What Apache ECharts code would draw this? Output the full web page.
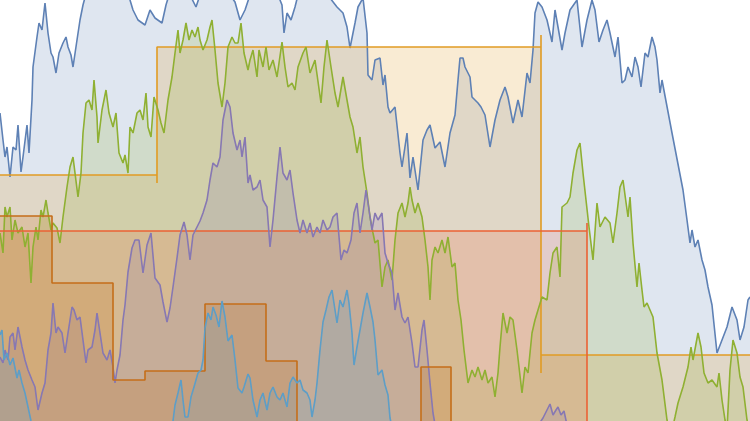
<!DOCTYPE html>
<html>
<head>
<meta charset="utf-8">
<script src="https://cdn.jsdelivr.net/npm/echarts@6/dist/echarts.min.js"></script>
<style>
html,body{margin:0;padding:0;background:#fff;}
#chart{width:750px;height:421px;}
</style>
</head>
<body>
<div id="chart"></div>
<script>
// Random-walk series: [time, value]
var walkBlue = [[0,308],[3,281],[5,264],[7,274],[10,244],[13,274],[16,271],[18,296],[21,249],[23,264],[27,296],[29,268],[32,321],[33,354],[37,384],[39,398],[42,391],[45,418],[48,388],[51,368],[53,364],[56,348],[59,368],[63,378],[66,384],[68,374],[71,366],[73,354],[77,381],[80,401],[83,416],[87,431],[95,451],[105,446],[115,456],[125,436],[130,421],[133,411],[138,401],[145,396],[150,411],[155,403],[162,398],[166,416],[172,436],[182,441],[190,426],[196,414],[200,426],[210,446],[220,441],[230,426],[235,419],[240,401],[245,411],[250,426],[258,446],[268,441],[276,431],[282,416],[284,388],[287,408],[291,401],[295,414],[298,426],[305,441],[315,436],[325,431],[330,423],[337,414],[343,408],[347,394],[350,373],[352,374],[355,398],[358,414],[363,423],[365,421],[367,388],[368,346],[372,341],[375,361],[380,363],[383,336],[385,346],[388,314],[390,308],[395,314],[400,268],[402,254],[407,288],[410,243],[413,264],[418,231],[423,281],[427,291],[430,296],[435,273],[440,279],[445,254],[450,288],[455,306],[458,341],[460,363],[463,363],[465,354],[470,344],[472,324],[478,318],[481,314],[485,306],[490,274],[495,301],[500,321],[505,334],[508,324],[513,298],[518,321],[522,304],[527,348],[530,338],[533,371],[535,408],[538,419],[542,414],[547,401],[552,379],[555,411],[558,394],[562,371],[565,388],[570,411],[577,421],[582,374],[587,401],[592,421],[595,411],[599,379],[603,391],[607,401],[610,388],[615,364],[618,384],[622,338],[625,341],[628,354],[632,344],[635,364],[638,354],[641,334],[645,368],[648,364],[652,384],[655,374],[657,361],[660,328],[662,341],[672,288],[683,231],[687,201],[690,178],[692,191],[695,174],[698,181],[702,161],[705,151],[708,134],[712,116],[717,68],[722,81],[727,94],[732,114],[737,101],[740,81],[744,94],[748,121],[750,124]];

var walkGreen = [[0,188],[3,168],[5,214],[7,204],[10,214],[12,181],[15,201],[18,188],[22,194],[25,174],[28,188],[31,138],[33,174],[36,194],[38,181],[41,211],[43,204],[46,221],[48,208],[51,191],[53,198],[57,193],[60,178],[63,204],[67,234],[70,254],[73,264],[75,248],[78,224],[81,248],[83,288],[86,318],[89,321],[92,311],[94,341],[97,304],[98,278],[102,311],[106,331],[109,308],[113,294],[116,308],[119,268],[123,258],[125,266],[128,248],[130,294],[133,288],[137,308],[140,311],[143,301],[146,328],[148,294],[151,284],[154,324],[158,311],[161,298],[164,288],[168,321],[172,344],[175,368],[178,391],[180,368],[183,381],[186,398],[189,381],[192,391],[195,384],[198,394],[200,381],[203,371],[207,381],[210,394],[212,401],[215,371],[218,338],[222,314],[225,338],[228,374],[232,384],[235,378],[238,378],[241,398],[244,368],[248,351],[250,361],[253,371],[257,344],[259,371],[263,354],[266,374],[269,351],[273,361],[277,344],[282,379],[285,354],[288,334],[292,338],[295,331],[298,354],[303,368],[306,374],[310,348],[315,361],[321,318],[324,354],[327,381],[331,354],[335,328],[338,314],[343,344],[347,321],[350,304],[353,294],[357,268],[360,284],[363,254],[367,228],[370,204],[373,188],[375,178],[378,181],[382,134],[385,154],[388,161],[392,141],[395,181],[398,208],[402,218],[405,204],[408,218],[410,234],[412,221],[415,208],[418,218],[422,204],[425,181],[428,154],[430,121],[432,161],[435,174],[438,168],[442,181],[445,168],[448,184],[452,154],[455,158],[458,121],[461,101],[464,71],[468,38],[472,51],[475,44],[478,54],[482,41],[485,51],[488,38],[492,44],[495,24],[498,48],[500,74],[503,108],[507,88],[510,104],[513,101],[517,71],[522,28],[525,54],[528,48],[532,88],[535,101],[538,111],[542,124],[547,121],[550,148],[553,168],[557,174],[560,144],[562,214],[567,218],[570,224],[573,248],[577,271],[580,278],[583,248],[586,221],[589,194],[593,161],[597,218],[600,194],[605,204],[610,198],[613,178],[617,208],[620,234],[623,241],[625,226],[628,204],[630,224],[633,178],[637,134],[639,158],[642,131],[644,114],[647,118],[650,111],[653,104],[657,68],[662,41],[667,1],[671,-14],[675,4],[678,18],[683,34],[688,54],[691,74],[693,61],[698,88],[701,74],[704,48],[708,38],[712,41],[717,34],[719,48],[722,21],[725,1],[727,-9],[730,51],[733,81],[737,68],[740,44],[743,34],[747,1],[750,-9]];

var walkPurple = [[0,64],[3,58],[5,71],[8,61],[10,84],[13,88],[15,71],[18,94],[22,74],[25,61],[28,51],[32,41],[35,34],[38,11],[42,28],[45,38],[48,71],[51,88],[53,118],[56,88],[58,94],[62,88],[65,68],[68,88],[72,114],[74,111],[77,101],[80,104],[83,81],[86,58],[88,71],[92,74],[95,91],[97,108],[100,88],[103,68],[107,61],[110,71],[113,54],[115,38],[117,51],[120,66],[123,101],[125,116],[128,149],[132,173],[135,181],[139,181],[143,148],[147,176],[151,188],[155,143],[160,136],[163,119],[167,99],[170,113],[173,134],[177,163],[180,186],[184,199],[187,186],[190,161],[193,186],[197,194],[200,200],[203,208],[207,221],[210,241],[213,258],[217,254],[220,264],[223,301],[227,321],[230,314],[233,288],[237,271],[240,281],[242,264],[245,284],[248,238],[250,246],[253,231],[257,234],[260,241],[263,221],[267,214],[270,174],[273,201],[277,244],[280,274],[283,248],[287,241],[290,251],[293,228],[297,201],[300,188],[303,201],[307,188],[310,198],[313,184],[317,194],[320,188],[323,201],[327,191],[330,194],[333,204],[337,208],[341,161],[344,171],[347,168],[351,181],[354,208],[357,218],[360,188],[363,208],[366,231],[368,218],[372,191],[375,208],[378,201],[382,208],[385,168],[388,158],[392,148],[395,111],[398,128],[402,104],[405,98],[408,104],[412,78],[415,54],[418,54],[422,91],[424,101],[427,71],[430,38],[433,8],[436,-9],[450,-39],[480,-49],[510,-29],[535,-9],[543,3],[547,11],[550,17],[553,6],[556,11],[558,14],[561,6],[564,10],[567,-4],[580,-29],[620,-49],[680,-59],[750,-69]];

var walkLightBlue = [[0,86],[2,91],[4,61],[7,68],[10,56],[13,63],[17,43],[19,51],[22,38],[25,28],[28,14],[31,0],[36,-19],[60,-49],[100,-69],[140,-49],[165,-19],[173,0],[175,16],[178,28],[181,41],[183,21],[185,4],[188,4],[191,24],[194,34],[198,48],[201,51],[203,61],[205,93],[208,108],[211,101],[213,114],[216,106],[219,94],[222,120],[225,104],[228,80],[232,86],[235,61],[238,33],[242,28],[244,34],[248,47],[250,43],[253,21],[257,4],[260,21],[263,28],[267,11],[270,28],[273,34],[277,24],[280,21],[283,28],[287,14],[290,38],[293,44],[297,38],[300,41],[303,31],[307,28],[310,21],[312,4],[315,21],[317,38],[320,71],[323,99],[326,111],[329,124],[332,131],[335,111],[337,98],[340,121],[343,114],[347,131],[349,118],[352,88],[354,56],[357,74],[360,91],[363,108],[367,128],[370,114],[373,99],[375,81],[378,46],[382,51],[385,36],[388,26],[390,3],[395,-19],[430,-49],[500,-59],[600,-49],[750,-59]];

// Step series: [jump time, new level] (level held until next jump)
var stepOrange = [[0,246],[157,238],[157,374],[541,386],[541,48],[541,66],[750,66]];
var stepRed = [[0,190],[587,198],[587,-40],[750,-40]];
var stepBrown = [[0,205],[52,138],[113,41],[145,50],[205,117],[266,60],[297,-30],[421,54],[451,-30],[750,-30]];

var colors = {
  blue: '#5E81B5', orange: '#E19C24', green: '#8FB032', red: '#EB6235',
  purple: '#8778B3', brown: '#C56E1A', lightBlue: '#5D9EC7'
};

var layers = [
  {data: walkBlue, color: colors.blue, step: false},
  {data: stepOrange, color: colors.orange, step: 'end'},
  {data: walkGreen, color: colors.green, step: false},
  {data: stepRed, color: colors.red, step: 'end'},
  {data: walkPurple, color: colors.purple, step: false},
  {data: stepBrown, color: colors.brown, step: 'end'},
  {data: walkLightBlue, color: colors.lightBlue, step: false}
];

var series = [];
layers.forEach(function (l) {
  series.push({
    type: 'line', data: l.data, step: l.step, symbol: 'none', silent: true,
    lineStyle: {width: 0, opacity: 0},
    areaStyle: {color: l.color, opacity: 0.2, origin: 'start'},
    z: 1
  });
});
layers.forEach(function (l) {
  series.push({
    type: 'line', data: l.data, step: l.step, symbol: 'none', silent: true,
    lineStyle: {width: 1.6, color: l.color},
    z: 2
  });
});

var chart = echarts.init(document.getElementById('chart'), null, {renderer: 'canvas'});
chart.setOption({
  animation: false,
  grid: {left: 0, right: 0, top: 0, bottom: 0},
  xAxis: {type: 'value', min: 0, max: 750, show: false},
  yAxis: {type: 'value', min: 0, max: 421, show: false},
  series: series
});
</script>
</body>
</html>
